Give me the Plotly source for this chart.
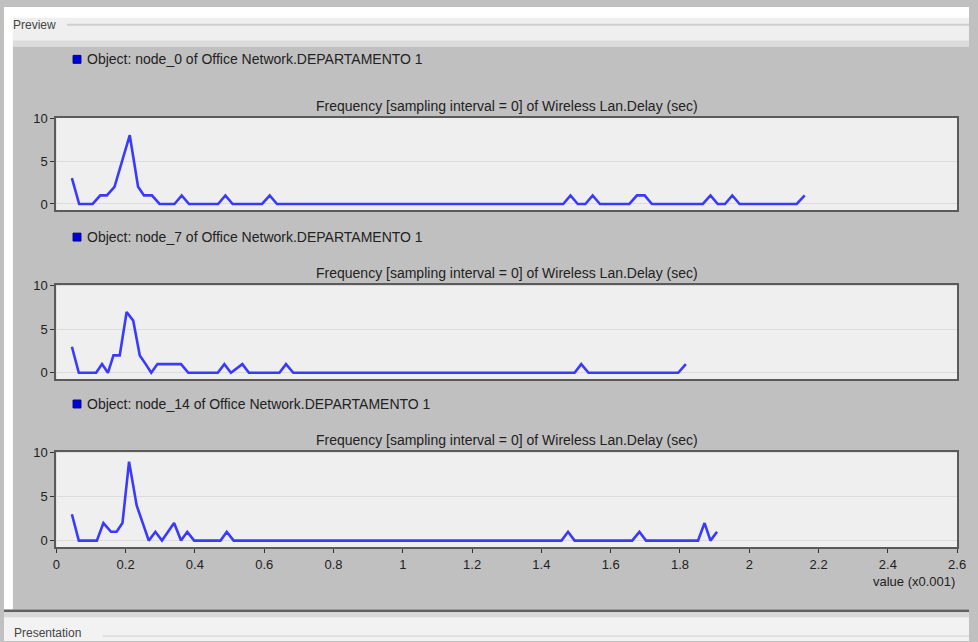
import plotly.graph_objects as go

# ---------------- data (x in units of 0.001 s) ----------------
node0_x = [0.045, 0.066, 0.105, 0.127, 0.146, 0.168, 0.212, 0.236, 0.253, 0.276, 0.298,
           0.341, 0.362, 0.383, 0.467, 0.488, 0.509, 0.594, 0.616, 0.637,
           1.463, 1.484, 1.505, 1.527, 1.548, 1.569, 1.654, 1.676, 1.698, 1.719,
           1.866, 1.888, 1.909, 1.930, 1.951, 1.972, 2.137, 2.160]
node0_y = [3, 0, 0, 1, 1, 2, 8, 2, 1, 1, 0,
           0, 1, 0, 0, 1, 0, 0, 1, 0,
           0, 1, 0, 0, 1, 0, 0, 1, 1, 0,
           0, 1, 0, 0, 1, 0, 0, 1]

node7_x = [0.045, 0.065, 0.115, 0.132, 0.149, 0.165, 0.183, 0.203, 0.222, 0.241, 0.258,
           0.274, 0.292, 0.360, 0.381, 0.466, 0.485, 0.504, 0.537, 0.556,
           0.644, 0.663, 0.684, 1.496, 1.515, 1.536, 1.795, 1.817]
node7_y = [3, 0, 0, 1, 0, 2, 2, 7, 6, 2, 1,
           0, 1, 1, 0, 0, 1, 0, 1, 0,
           0, 1, 0, 0, 1, 0, 0, 1]

node14_x = [0.045, 0.065, 0.117, 0.136, 0.158, 0.174, 0.191, 0.210, 0.232, 0.267, 0.286,
            0.305, 0.340, 0.360, 0.378, 0.398, 0.474, 0.492, 0.512,
            1.458, 1.477, 1.496, 1.662, 1.683, 1.702, 1.852, 1.871, 1.888, 1.907]
node14_y = [3, 0, 0, 2, 1, 1, 2, 9, 4, 0, 1,
            0, 2, 0, 1, 0, 0, 1, 0,
            0, 1, 0, 0, 1, 0, 0, 2, 0, 1]

series_names = ["Object: node_0 of Office Network.DEPARTAMENTO 1",
                "Object: node_7 of Office Network.DEPARTAMENTO 1",
                "Object: node_14 of Office Network.DEPARTAMENTO 1"]
panel_title = "Frequency [sampling interval = 0] of Wireless Lan.Delay (sec)"
x_tick_vals = [0, 0.2, 0.4, 0.6, 0.8, 1, 1.2, 1.4, 1.6, 1.8, 2, 2.2, 2.4, 2.6]
x_tick_text = ["0", "0.2", "0.4", "0.6", "0.8", "1", "1.2", "1.4", "1.6", "1.8", "2", "2.2", "2.4", "2.6"]
y_tick_vals = [0, 5, 10]
x_label = "value (x0.001)"

# ---------------- layout helpers ----------------
W, H = 978, 642
FONT = "Liberation Sans, Arial, sans-serif"
TXT = "#222222"


def px(x):
    return x / W


def py(y):
    return 1 - y / H


xdom = [px(53), px(966)]
panels = [  # (top, bottom) pixel rows of each plot box, legend row, title row
    (112, 206, 53, 100),
    (282, 377, 233, 269),
    (451, 547, 402, 438),
]
series = [(node0_x, node0_y), (node7_x, node7_y), (node14_x, node14_y)]

fig = go.Figure()
layout = dict(
    width=W, height=H,
    margin=dict(l=0, r=0, t=0, b=0),
    paper_bgcolor="#c0c0c0",
    plot_bgcolor="#efefef",
    showlegend=False,
    font=dict(family=FONT, size=12, color=TXT),
)
annotations = []
shapes = []

for i, ((top, bot, leg_y, tit_y), (xs, ys), name) in enumerate(zip(panels, series, series_names)):
    k = "" if i == 0 else str(i + 1)
    fig.add_trace(go.Scatter(
        x=xs, y=ys, mode="lines",
        line=dict(color="#3a3aff", width=2.6),
        xaxis="x" + k, yaxis="y" + k, name=name,
    ))
    last = i == 2
    layout["xaxis" + k] = dict(
        domain=xdom, anchor="y" + k, range=[0, 2.6],
        showgrid=False, zeroline=False,
        showline=True, mirror=True, linecolor="#5a5a5a", linewidth=2,
        ticks="outside" if last else "", ticklen=4, tickcolor="#333333",
        tickvals=x_tick_vals, ticktext=x_tick_text,
        showticklabels=last,
        tickfont=dict(family=FONT, size=13, color=TXT),
    )
    layout["yaxis" + k] = dict(
        domain=[py(bot), py(top)], anchor="x" + k, range=[-0.75, 10.05],
        showgrid=True, gridcolor="#dcdcdc", gridwidth=1, zeroline=False,
        showline=True, mirror=True, linecolor="#5a5a5a", linewidth=2,
        ticks="outside", ticklen=4, tickcolor="#333333",
        tickvals=y_tick_vals,
        tickfont=dict(family=FONT, size=13, color=TXT),
    )
    # legend square + text
    shapes.append(dict(type="rect", xref="paper", yref="paper",
                       x0=px(70), x1=px(78), y0=py(leg_y + 4), y1=py(leg_y - 4),
                       fillcolor="#0000d8", line=dict(color="#000080", width=1)))
    annotations.append(dict(text=name, xref="paper", yref="paper",
                            x=px(82), y=py(leg_y), xanchor="left", yanchor="middle",
                            showarrow=False, font=dict(family=FONT, size=14, color=TXT)))
    annotations.append(dict(text=panel_title, xref="paper", yref="paper",
                            x=px(510), y=py(tit_y), xanchor="center", yanchor="middle",
                            showarrow=False, font=dict(family=FONT, size=14, color=TXT)))

annotations.append(dict(text=x_label, xref="paper", yref="paper",
                        x=px(966), y=py(582), xanchor="right", yanchor="middle",
                        showarrow=False, font=dict(family=FONT, size=13, color=TXT)))

# window chrome: top strip, left strip, bottom strip
shapes += [
    dict(type="rect", xref="paper", yref="paper", x0=0, x1=1, y0=py(40), y1=1,
         fillcolor="#efefef", line=dict(width=0), layer="below"),
    dict(type="rect", xref="paper", yref="paper", x0=0, x1=1, y0=py(11), y1=1,
         fillcolor="#ffffff", line=dict(width=0), layer="below"),
    dict(type="rect", xref="paper", yref="paper", x0=0, x1=1, y0=py(40), y1=py(34),
         fillcolor="#dcdcdc", line=dict(width=0), layer="below"),
    dict(type="line", xref="paper", yref="paper", x0=px(64), x1=1, y0=py(18), y1=py(18),
         line=dict(color="#cfcfcf", width=2)),
    dict(type="rect", xref="paper", yref="paper", x0=0, x1=px(9), y0=0, y1=1,
         fillcolor="#ffffff", line=dict(width=0), layer="below"),
    dict(type="rect", xref="paper", yref="paper", x0=0, x1=1, y0=0, y1=py(610),
         fillcolor="#f2f2f2", line=dict(width=0), layer="below"),
    dict(type="rect", xref="paper", yref="paper", x0=0, x1=1, y0=py(613), y1=py(610),
         fillcolor="#606060", line=dict(width=0), layer="below"),
    dict(type="rect", xref="paper", yref="paper", x0=0, x1=1, y0=py(618), y1=py(613),
         fillcolor="#d8d8d8", line=dict(width=0), layer="below"),
    dict(type="line", xref="paper", yref="paper", x0=px(100), x1=1, y0=py(637), y1=py(637),
         line=dict(color="#d0d0d0", width=1)),
]
annotations.append(dict(text="Preview", xref="paper", yref="paper",
                        x=px(7), y=py(18), xanchor="left", yanchor="middle",
                        showarrow=False, font=dict(family=FONT, size=12, color="#444444")))
annotations.append(dict(text="Presentation", xref="paper", yref="paper",
                        x=px(8), y=py(634), xanchor="left", yanchor="middle",
                        showarrow=False, font=dict(family=FONT, size=12, color="#444444")))

layout["annotations"] = annotations
layout["shapes"] = shapes
fig.update_layout(**layout)

pin_js = (
    "var s=document.documentElement.style;s.margin='0';s.padding='0';s.overflow='hidden';"
    "var b=document.body.style;b.margin='0';b.padding='0';b.overflow='hidden';"
    "var d=document.querySelector('.plotly-graph-div');"
    "if(d){d.style.position='fixed';d.style.left='0px';d.style.top='0px';}"
)
fig.write_html("out.html", config={"displayModeBar": False}, post_script=pin_js)
